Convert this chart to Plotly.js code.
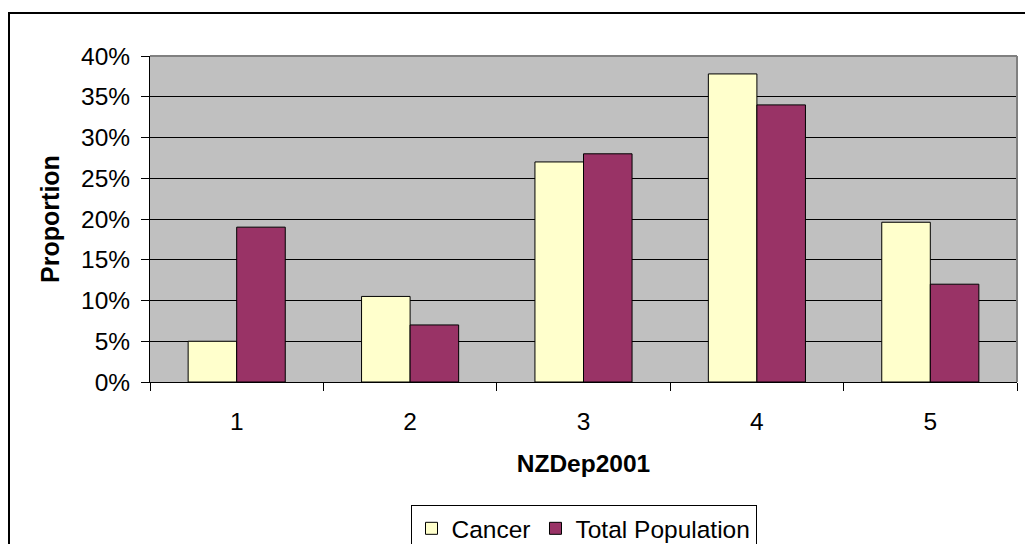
<!DOCTYPE html>
<html>
<head>
<meta charset="utf-8">
<script src="https://cdn.plot.ly/plotly-3.0.1.min.js"></script>
<style>
  html, body { margin: 0; padding: 0; width: 1025px; height: 544px; overflow: hidden; background: #ffffff; }
  #chart { position: absolute; left: 0; top: 0; width: 1025px; height: 580px; }
  #frame { position: absolute; left: 8px; top: 12px; width: 1100px; height: 700px; border: 2px solid #000; pointer-events: none; z-index: 10; }
</style>
</head>
<body>
<div id="chart"></div>
<div id="frame"></div>
<script>
const categories = ['1', '2', '3', '4', '5'];
const cancer = [0.050, 0.105, 0.270, 0.378, 0.196];
const totalPopulation = [0.190, 0.070, 0.280, 0.340, 0.120];
const seriesNames = ['Cancer', 'Total Population'];
const yTickValues = [0, 0.05, 0.10, 0.15, 0.20, 0.25, 0.30, 0.35, 0.40];

const fontFamily = 'Liberation Sans, Arial, sans-serif';

const traces = [
  {
    type: 'bar', name: seriesNames[0], x: categories, y: cancer,
    marker: { color: '#FFFFCC', line: { color: '#000000', width: 1 } },
    hoverinfo: 'none'
  },
  {
    type: 'bar', name: seriesNames[1], x: categories, y: totalPopulation,
    marker: { color: '#993366', line: { color: '#000000', width: 1 } },
    hoverinfo: 'none'
  }
];

const layout = {
  width: 1025, height: 580,
  margin: { l: 150, r: 8, t: 56, b: 198 },
  paper_bgcolor: '#ffffff',
  plot_bgcolor: '#C0C0C0',
  barmode: 'group',
  bargap: 0.44,
  bargroupgap: 0,
  font: { family: fontFamily, size: 24.5, color: '#000000' },
  showlegend: true,
  legend: {
    orientation: 'h',
    x: 0.5, xanchor: 'center', xref: 'paper',
    y: -0.377, yanchor: 'top', yref: 'paper',
    bgcolor: '#ffffff', bordercolor: '#000000', borderwidth: 1,
    font: { family: fontFamily, size: 24.5, color: '#000000' },
    itemwidth: 30,
    traceorder: 'normal'
  },
  xaxis: {
    type: 'category',
    showgrid: false,
    showline: true, linecolor: '#000000', linewidth: 1,
    ticks: 'outside', ticklen: 8, tickcolor: '#000000', tickwidth: 1,
    tickson: 'boundaries',
    tickfont: { family: fontFamily, size: 24.5, color: '#000000' },
    ticklabelstandoff: 18,
    zeroline: false,
    title: { text: '<b>NZDep2001</b>', font: { family: fontFamily, size: 24.5, color: '#000000' }, standoff: 20 }
  },
  yaxis: {
    range: [0, 0.4],
    tickvals: yTickValues,
    tickformat: '.0%',
    showgrid: true, gridcolor: '#000000', gridwidth: 1,
    showline: true, linecolor: '#000000', linewidth: 1,
    ticks: 'outside', ticklen: 8, tickcolor: '#000000', tickwidth: 1,
    tickfont: { family: fontFamily, size: 24.5, color: '#000000' },
    ticklabelstandoff: 6,
    zeroline: false,
    title: { text: '<b>Proportion</b>', font: { family: fontFamily, size: 25, color: '#000000' }, standoff: 14 }
  },
  shapes: [
    { type: 'line', xref: 'paper', yref: 'paper', x0: 0, x1: 1, y0: 1, y1: 1, line: { color: '#808080', width: 2 }, layer: 'above' },
    { type: 'line', xref: 'paper', yref: 'paper', x0: 1, x1: 1, y0: 0, y1: 1, line: { color: '#808080', width: 2 }, layer: 'above' }
  ]
};

Plotly.newPlot('chart', traces, layout, { displayModeBar: false, staticPlot: true });
</script>
</body>
</html>
